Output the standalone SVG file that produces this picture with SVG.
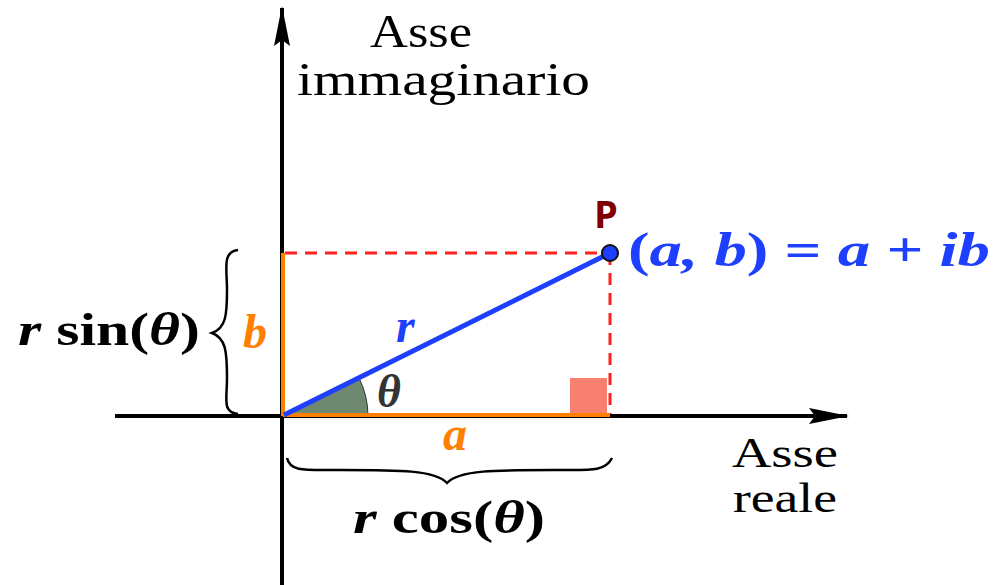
<svg xmlns="http://www.w3.org/2000/svg" width="1005" height="585" viewBox="0 0 1005 585">
<style>
.lbl{font-family:"Liberation Serif","Times New Roman",serif;fill:#000}
.m{font-family:"Liberation Serif","DejaVu Serif",serif;font-weight:bold}
.it{font-style:italic}
.ax{stroke:#000;stroke-width:4;fill:none}
.dash{stroke:#ff2020;stroke-width:3;stroke-dasharray:12,8;fill:none}
.or{stroke:#ff8000;stroke-width:4;fill:none}
</style>
<defs>
<marker id="ah" viewBox="0 0 40 16" refX="38" refY="8" markerWidth="40" markerHeight="16" markerUnits="userSpaceOnUse" orient="auto">
<path d="M0,0 L40,8 L0,16 L6,8 Z" fill="#000"/>
</marker>
</defs>
<rect width="1005" height="585" fill="#fff"/>
<g id="sector">
<path d="M283,416 L359,378 A85,85 0 0 1 368,416 Z" fill="#6f8870"/>
<path d="M359,378 A85,85 0 0 1 368,416" stroke="#333" stroke-width="1" fill="none"/>
</g>
<g id="rightangle"><rect x="570" y="378" width="37" height="36" fill="#f88070"/></g>
<g id="connectors">
<line class="ax" x1="115" y1="416" x2="847" y2="416" marker-end="url(#ah)"/>
<line class="ax" x1="282" y1="585" x2="282" y2="8" marker-end="url(#ah)"/>
<line class="dash" x1="285" y1="253" x2="610" y2="253"/>
<line class="dash" x1="610" y1="253" x2="610" y2="414"/>
<line class="or" x1="283" y1="253" x2="283" y2="416"/>
<line class="or" x1="283" y1="415" x2="610" y2="415"/>
<line stroke="#1f3fff" stroke-width="5" x1="284" y1="415" x2="610" y2="253"/>
<path d="M238,250 C222,252 227,268 227,290 C227,315 226,328 212,333 C226,338 227,352 227,378 C227,400 222,412 238,414" stroke="#000" stroke-width="2.5" fill="none"/>
<path d="M287,458 C290,472 305,470 340,470 C400,470 435,470 447,483 C459,470 495,470 555,470 C590,470 605,472 612,458" stroke="#000" stroke-width="2.5" fill="none"/>
</g>
<g id="P">
<circle cx="610" cy="253" r="8" fill="#1f3fff" stroke="#111" stroke-width="2"/>
<text x="606" y="228" text-anchor="middle" font-family="'Open Sans','Noto Sans',sans-serif" font-weight="bold" font-size="38" fill="#800000">P</text>
<text x="628" y="266" class="m it" font-size="48" fill="#1f3fff" textLength="362" lengthAdjust="spacingAndGlyphs"><tspan font-style="normal">(</tspan>a, b<tspan font-style="normal">) = </tspan>a<tspan font-style="normal"> + </tspan>ib</text>
</g>
<g id="axislabels">
<text class="lbl" x="370" y="47" font-size="46" textLength="102" lengthAdjust="spacingAndGlyphs">Asse</text>
<text class="lbl" x="297" y="95" font-size="46" textLength="293" lengthAdjust="spacingAndGlyphs">immaginario</text>
<text class="lbl" x="732" y="467" font-size="42" textLength="106" lengthAdjust="spacingAndGlyphs">Asse</text>
<text class="lbl" x="733" y="512" font-size="42" textLength="104" lengthAdjust="spacingAndGlyphs">reale</text>
</g>
<g id="labels">
<text class="m" x="18" y="345" font-size="47" textLength="182" lengthAdjust="spacingAndGlyphs"><tspan class="it">r</tspan> sin(<tspan class="it">θ</tspan>)</text>
<text class="m it" x="243" y="348" font-size="48" fill="#ff8000">b</text>
<text class="m it" x="396" y="342" font-size="48" fill="#1f3fff">r</text>
<text class="m it" x="377" y="407" font-size="46" fill="#333">θ</text>
<text class="m it" x="443" y="450" font-size="48" fill="#ff8000">a</text>
<text class="m" x="353" y="533" font-size="47" textLength="192" lengthAdjust="spacingAndGlyphs"><tspan class="it">r</tspan> cos(<tspan class="it">θ</tspan>)</text>
</g>
</svg>
